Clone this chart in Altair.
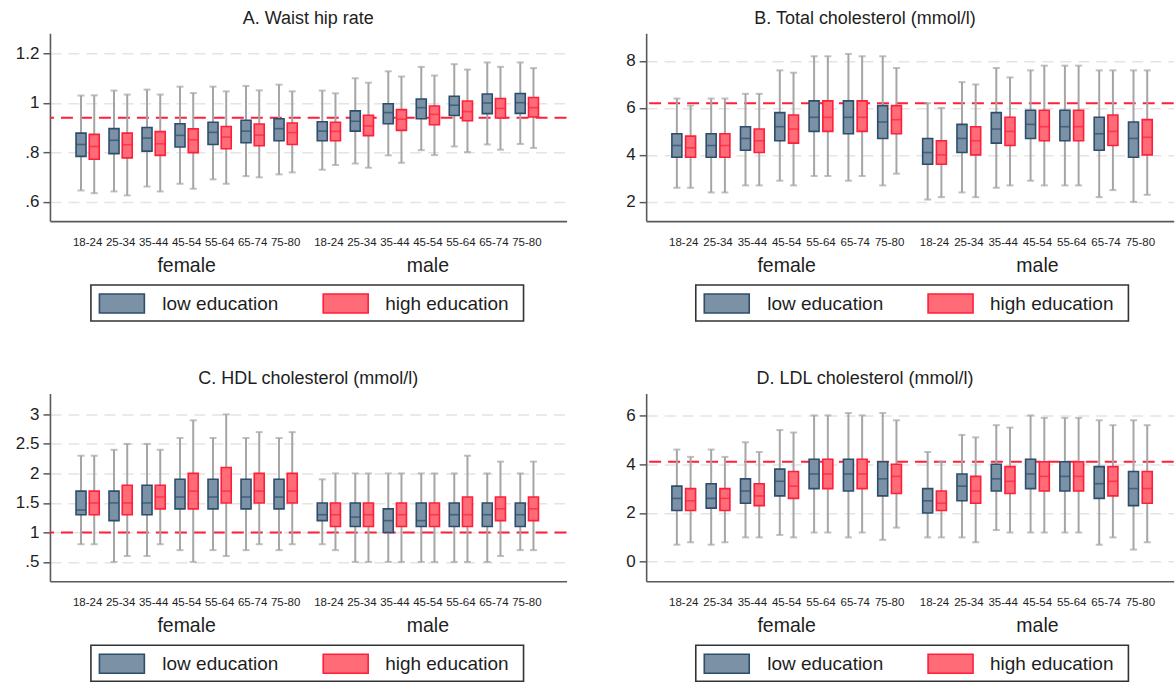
import altair as alt
import pandas as pd

AGES = ["18-24", "25-34", "35-44", "45-54", "55-64", "65-74", "75-80"]
SEXES = ["female", "male"]
EDUCATION = ["low education", "high education"]

# Box statistics per age group: [lower whisker, q1, median, q3, upper whisker]
# first seven rows are women, last seven are men
whr_low = [[0.646, 0.784, 0.832, 0.878, 1.030], [0.642, 0.795, 0.849, 0.896, 1.050],
           [0.662, 0.805, 0.858, 0.901, 1.054], [0.673, 0.822, 0.869, 0.916, 1.066],
           [0.691, 0.832, 0.881, 0.922, 1.066], [0.704, 0.839, 0.886, 0.930, 1.069],
           [0.711, 0.847, 0.896, 0.936, 1.074],
           [0.730, 0.847, 0.886, 0.924, 1.050], [0.755, 0.886, 0.926, 0.968, 1.100],
           [0.788, 0.916, 0.961, 0.997, 1.128], [0.809, 0.936, 0.981, 1.016, 1.146],
           [0.824, 0.949, 0.991, 1.027, 1.157], [0.832, 0.957, 1.000, 1.036, 1.164],
           [0.834, 0.958, 1.001, 1.038, 1.164]]
whr_high = [[0.635, 0.772, 0.824, 0.873, 1.031], [0.626, 0.778, 0.831, 0.878, 1.034],
            [0.642, 0.788, 0.835, 0.884, 1.034], [0.653, 0.799, 0.851, 0.895, 1.040],
            [0.673, 0.815, 0.862, 0.905, 1.047], [0.699, 0.827, 0.870, 0.915, 1.051],
            [0.719, 0.832, 0.880, 0.919, 1.047],
            [0.749, 0.847, 0.885, 0.922, 1.039], [0.738, 0.868, 0.907, 0.950, 1.082],
            [0.758, 0.889, 0.934, 0.973, 1.107], [0.789, 0.912, 0.954, 0.988, 1.111],
            [0.801, 0.928, 0.965, 1.008, 1.135], [0.811, 0.939, 0.978, 1.018, 1.146],
            [0.818, 0.943, 0.981, 1.022, 1.141]]

tc_low = [[2.6, 3.9, 4.4, 4.9, 6.4], [2.4, 3.9, 4.4, 4.9, 6.4], [2.7, 4.2, 4.7, 5.2, 6.6],
          [2.9, 4.6, 5.2, 5.8, 7.6], [3.1, 5.0, 5.6, 6.3, 8.2], [2.9, 4.9, 5.6, 6.3, 8.3],
          [2.7, 4.7, 5.4, 6.1, 8.2],
          [2.1, 3.6, 4.1, 4.7, 6.2], [2.4, 4.1, 4.7, 5.3, 7.1], [2.6, 4.5, 5.1, 5.8, 7.7],
          [2.9, 4.7, 5.3, 5.9, 7.6], [2.7, 4.6, 5.2, 5.9, 7.8], [2.2, 4.2, 4.9, 5.6, 7.6],
          [2.0, 3.9, 4.7, 5.4, 7.6]]
tc_high = [[2.6, 3.9, 4.3, 4.8, 6.1], [2.4, 3.9, 4.4, 4.9, 6.4], [2.7, 4.1, 4.6, 5.1, 6.6],
           [2.7, 4.5, 5.1, 5.7, 7.5], [3.1, 5.0, 5.6, 6.3, 8.2], [3.1, 5.0, 5.6, 6.3, 8.2],
           [3.2, 4.9, 5.5, 6.1, 7.7],
           [2.2, 3.6, 4.0, 4.6, 6.0], [2.2, 4.0, 4.6, 5.2, 7.0], [2.7, 4.4, 5.0, 5.6, 7.3],
           [2.7, 4.6, 5.2, 5.9, 7.8], [2.7, 4.6, 5.2, 5.9, 7.8], [2.5, 4.4, 5.0, 5.7, 7.6],
           [2.3, 4.0, 4.75, 5.5, 7.6]]

hdl_low = [[0.8, 1.3, 1.38, 1.7, 2.3], [0.5, 1.2, 1.5, 1.7, 2.4], [0.6, 1.3, 1.5, 1.8, 2.5],
           [0.7, 1.4, 1.6, 1.9, 2.6], [0.7, 1.4, 1.6, 1.9, 2.6], [0.7, 1.4, 1.6, 1.9, 2.6],
           [0.7, 1.4, 1.6, 1.9, 2.6],
           [0.8, 1.2, 1.3, 1.5, 1.9], [0.5, 1.1, 1.26, 1.5, 2.0], [0.5, 1.0, 1.2, 1.4, 2.0],
           [0.5, 1.1, 1.2, 1.5, 2.0], [0.5, 1.1, 1.3, 1.5, 2.0], [0.5, 1.1, 1.3, 1.5, 2.0],
           [0.7, 1.1, 1.3, 1.5, 2.0]]
hdl_high = [[0.8, 1.3, 1.5, 1.7, 2.3], [0.6, 1.3, 1.5, 1.8, 2.5], [0.8, 1.4, 1.6, 1.8, 2.4],
            [0.5, 1.4, 1.7, 2.0, 2.9], [0.6, 1.5, 1.7, 2.1, 3.0], [0.8, 1.5, 1.7, 2.0, 2.7],
            [0.8, 1.5, 1.7, 2.0, 2.7],
            [0.7, 1.1, 1.3, 1.5, 2.0], [0.5, 1.1, 1.3, 1.5, 2.0], [0.5, 1.1, 1.3, 1.5, 2.0],
            [0.5, 1.1, 1.3, 1.5, 2.0], [0.5, 1.1, 1.3, 1.6, 2.3], [0.6, 1.2, 1.4, 1.6, 2.2],
            [0.7, 1.2, 1.4, 1.6, 2.2]]

ldl_low = [[0.7, 2.1, 2.6, 3.1, 4.6], [0.7, 2.2, 2.6, 3.2, 4.6], [1.0, 2.4, 2.9, 3.4, 4.9],
           [1.1, 2.7, 3.3, 3.8, 5.4], [1.2, 3.0, 3.6, 4.2, 6.0], [1.0, 2.9, 3.6, 4.2, 6.1],
           [0.9, 2.7, 3.4, 4.1, 6.1],
           [1.0, 2.0, 2.5, 3.0, 4.5], [1.0, 2.5, 3.1, 3.6, 5.2], [1.3, 2.9, 3.4, 4.0, 5.6],
           [1.2, 3.0, 3.6, 4.2, 6.0], [1.2, 2.9, 3.5, 4.1, 5.9], [0.7, 2.6, 3.2, 3.9, 5.8],
           [0.5, 2.3, 3.0, 3.7, 5.8]]
ldl_high = [[0.8, 2.1, 2.5, 3.0, 4.3], [0.8, 2.1, 2.6, 3.0, 4.3], [1.0, 2.3, 2.7, 3.2, 4.5],
            [1.0, 2.6, 3.1, 3.7, 5.3], [1.2, 3.0, 3.6, 4.2, 6.0], [1.2, 3.0, 3.6, 4.2, 6.0],
            [1.4, 2.8, 3.5, 4.0, 5.8],
            [1.0, 2.1, 2.4, 2.9, 4.1], [0.8, 2.4, 2.9, 3.5, 5.1], [1.2, 2.8, 3.3, 3.9, 5.5],
            [1.2, 2.9, 3.5, 4.1, 5.9], [1.2, 2.9, 3.5, 4.1, 5.9], [1.0, 2.7, 3.3, 3.9, 5.6],
            [0.8, 2.4, 3.0, 3.7, 5.6]]

# Reference cut-offs drawn as dashed red lines
REF = {"whr": 0.94, "tc": 6.2, "hdl": 1.0, "ldl": 4.1}

FONT = "Liberation Sans"
FILLS = ["#7a91a6", "#ff6b76"]
STROKES = ["#2e4d6b", "#ff1f3a"]
WHISKER = "#a5a5a5"
AXIS_GREY = "#5a5a5a"
TEXT = "#1e1e1e"

GAP = 7.31      # position of the first male group (female groups sit at 0..6)
OFF = 0.2       # half distance between the paired boxes
H = 188         # plot height


def group_pos(i):
    return (i % 7) + (GAP if i >= 7 else 0)


def panel(title, low, high, ref, ydom, yticks, width, xdom, title_dx):
    rows = []
    for edu, stats, sign in ((EDUCATION[0], low, -1), (EDUCATION[1], high, 1)):
        for i, s in enumerate(stats):
            rows.append(dict(edu=edu, sex=SEXES[i // 7], age=AGES[i % 7],
                             pos=group_pos(i) + sign * OFF,
                             lo=s[0], q1=s[1], med=s[2], q3=s[3], hi=s[4]))
    df = pd.DataFrame(rows)

    xs = alt.Scale(domain=xdom, nice=False, zero=False)
    ys = alt.Scale(domain=ydom, nice=False, zero=False)
    x_ax = alt.Axis(title=None, labels=False, ticks=False, grid=False,
                    domainColor=AXIS_GREY, domainWidth=1.6)
    y_ax = alt.Axis(title=None, values=yticks, format="~g",
                    labelExpr="indexof(datum.label, '0.') == 0 ? substring(datum.label, 1) : datum.label",
                    labelFont=FONT, labelFontSize=17, labelColor=TEXT, labelPadding=4,
                    tickSize=7, tickColor=AXIS_GREY, tickWidth=1.5,
                    domainColor=AXIS_GREY, domainWidth=1.6,
                    grid=True, gridColor="#e4e4e4", gridDash=[11, 7], gridWidth=1.5)
    fill = alt.Fill("edu:N", scale=alt.Scale(domain=EDUCATION, range=FILLS), legend=None)
    stroke = alt.Stroke("edu:N", scale=alt.Scale(domain=EDUCATION, range=STROKES), legend=None)
    med_color = alt.Color("edu:N", scale=alt.Scale(domain=EDUCATION, range=STROKES), legend=None)

    base = alt.Chart(df)
    X = alt.X("pos:Q", scale=xs, axis=x_ax)

    ref_line = alt.Chart(pd.DataFrame({"ref": [ref]})).mark_rule(
        color="#ff1f3a", strokeWidth=2, strokeDash=[12, 7]
    ).encode(y=alt.Y("ref:Q", scale=ys, axis=y_ax))

    whiskers = base.mark_rule(color=WHISKER, strokeWidth=2).encode(
        x=X, y=alt.Y("lo:Q", scale=ys, axis=y_ax), y2="hi:Q")
    cap_lo = base.mark_tick(orient="horizontal", size=7, thickness=2, color=WHISKER).encode(
        x=X, y=alt.Y("lo:Q", scale=ys, axis=y_ax))
    cap_hi = base.mark_tick(orient="horizontal", size=7, thickness=2, color=WHISKER).encode(
        x=X, y=alt.Y("hi:Q", scale=ys, axis=y_ax))
    boxes = base.mark_bar(size=10, strokeWidth=1.6).encode(
        x=X, y=alt.Y("q1:Q", scale=ys, axis=y_ax), y2="q3:Q", fill=fill, stroke=stroke)
    medians = base.mark_tick(orient="horizontal", size=10, thickness=1.6).encode(
        x=X, y=alt.Y("med:Q", scale=ys, axis=y_ax), color=med_color)

    # age labels under the axis and the sex labels under them
    ages = pd.DataFrame({"age": AGES * 2, "pos": [group_pos(i) for i in range(14)]})
    age_text = alt.Chart(ages).mark_text(
        font=FONT, fontSize=11.5, color=TEXT, baseline="middle"
    ).encode(x=alt.X("pos:Q", scale=xs, axis=x_ax), y=alt.value(H + 22), text="age:N")
    sexes = pd.DataFrame({"sex": SEXES, "pos": [3, GAP + 3]})
    sex_text = alt.Chart(sexes).mark_text(
        font=FONT, fontSize=19.5, color=TEXT, baseline="middle"
    ).encode(x=alt.X("pos:Q", scale=xs, axis=x_ax), y=alt.value(H + 45), text="sex:N")

    # legend box centred under the two groups
    mid = (0 + GAP + 6) / 2
    cx = (mid - xdom[0]) / (xdom[1] - xdom[0]) * width
    one = pd.DataFrame({"edu": EDUCATION})
    frame = alt.Chart(pd.DataFrame({"k": [0]})).mark_rect(
        fill="white", stroke="#333333", strokeWidth=1.6
    ).encode(x=alt.value(cx - 216.5), x2=alt.value(cx + 216.5),
             y=alt.value(H + 64), y2=alt.value(H + 100))
    legend_layers = [frame]
    for k, (sx, tx) in enumerate(((-208, -145), (16, 78))):
        sub = one[one.edu == EDUCATION[k]]
        legend_layers.append(
            alt.Chart(sub).mark_rect(strokeWidth=1.6).encode(
                x=alt.value(cx + sx), x2=alt.value(cx + sx + 45),
                y=alt.value(H + 73), y2=alt.value(H + 92), fill=fill, stroke=stroke))
        legend_layers.append(
            alt.Chart(sub).mark_text(font=FONT, fontSize=19, color=TEXT,
                                     align="left", baseline="middle").encode(
                x=alt.value(cx + tx), y=alt.value(H + 82.5), text="edu:N"))

    return alt.layer(ref_line, whiskers, cap_lo, cap_hi, boxes, medians,
                     age_text, sex_text, *legend_layers).properties(
        width=width, height=H,
        title=alt.TitleParams(title, font=FONT, fontSize=18, fontWeight="normal",
                              color=TEXT, anchor="middle", dx=title_dx, offset=5))


XDOM_L = [-0.99, 14.36]
XDOM_R = [-0.95, 14.136]

a = panel("A. Waist hip rate", whr_low, whr_high, REF["whr"], [0.522, 1.282],
          [0.6, 0.8, 1.0, 1.2], 517, XDOM_L, 0)
b = panel("B. Total cholesterol (mmol/l)", tc_low, tc_high, REF["tc"], [1.18, 9.18],
          [2, 4, 6, 8], 528, XDOM_R, -45)
c = panel("C. HDL cholesterol (mmol/l)", hdl_low, hdl_high, REF["hdl"], [0.172, 3.355],
          [0.5, 1, 1.5, 2, 2.5, 3], 517, XDOM_L, 0)
d = panel("D. LDL cholesterol (mmol/l)", ldl_low, ldl_high, REF["ldl"], [-0.8, 6.9],
          [0, 2, 4, 6], 528, XDOM_R, -45)

chart = alt.concat(a, b, c, d, columns=2, bounds="flush", align="each",
                   spacing={"row": 172.5, "column": 79.7}).properties(
    padding={"left": 15, "top": 10, "right": 0, "bottom": 0},
    background="white",
).configure_view(stroke=None)

chart.save("out.html", embed_options={"renderer": "svg", "actions": False})
